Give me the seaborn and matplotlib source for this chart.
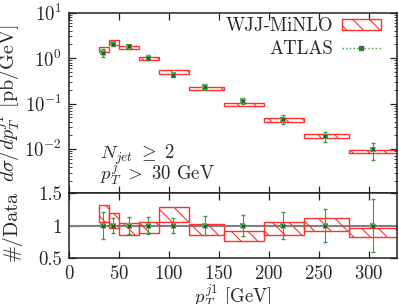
import matplotlib
matplotlib.use('Agg')
import matplotlib.pyplot as plt
import seaborn as sns
from matplotlib.lines import Line2D
from matplotlib.patches import Patch

# bins of leading-jet pT and values
edges = [30, 40, 50, 70, 90, 120, 155, 195, 235, 280, 330]
atlas_x = [34, 44, 60, 79.5, 104.5, 136, 174, 214, 256.5, 304]
atlas_y = [1.31, 2.07, 1.81, 1.02, 0.43, 0.23, 0.114, 0.045, 0.019, 0.0097]
atlas_rel = [0.21, 0.12, 0.13, 0.13, 0.11, 0.145, 0.165, 0.21, 0.25, 0.40]
minlo_lo = [1.06, 0.96, 0.86, 0.89, 1.06, 0.86, 0.76, 0.86, 0.92, 0.82]
minlo_hi = [1.31, 1.19, 1.04, 1.05, 1.28, 1.02, 0.91, 1.05, 1.11, 0.97]

sns.set_theme(style='ticks')
fs = 13.5
plt.rcParams['font.family'] = ['cmr10', 'DejaVu Serif']
plt.rcParams['mathtext.fontset'] = 'cm'
plt.rcParams['axes.formatter.use_mathtext'] = True
for k in ['font.size', 'axes.labelsize', 'xtick.labelsize', 'ytick.labelsize',
          'legend.fontsize']:
    plt.rcParams[k] = fs
plt.rcParams['hatch.linewidth'] = 0.8

red = '#ff3030'
green = '#3c9a3c'

lefts = edges[:-1]
widths = [b - a for a, b in zip(edges[:-1], edges[1:])]
up_lo = [d * r for d, r in zip(atlas_y, minlo_lo)]
up_h = [d * (h - l) for d, h, l in zip(atlas_y, minlo_hi, minlo_lo)]
err_up = [d * e for d, e in zip(atlas_y, atlas_rel)]
ones = [1.0] * len(atlas_x)
rat_h = [h - l for h, l in zip(minlo_hi, minlo_lo)]

fig = plt.figure(figsize=(3.99, 3.04), dpi=100)
ax = fig.add_axes([0.173, 0.366, 0.821, 0.592])
ax2 = fig.add_axes([0.173, 0.150, 0.821, 0.216], sharex=ax)

# --- upper panel ---
ax.bar(lefts, up_h, width=widths, bottom=up_lo, align='edge', color='none',
       edgecolor=red, linewidth=1.0, hatch='\\\\', zorder=2)
ax.errorbar(atlas_x, atlas_y, yerr=err_up, fmt='none', ecolor=green,
            elinewidth=0.8, capsize=1.5, ls='--', zorder=3)
sns.scatterplot(x=atlas_x, y=atlas_y, marker='s', color='#5fb35f', s=14,
                edgecolor='none', ax=ax, zorder=4)
sns.scatterplot(x=atlas_x, y=atlas_y, marker='x', color='#1a4d1a', s=8,
                linewidth=0.8, ax=ax, zorder=5)
ax.set_yscale('log')
ax.set_ylim(1.08e-3, 10)
ax.set_xlim(0, 328)
ax.set_ylabel(r'$d\sigma/dp_T^{j1}$ [pb/GeV]', fontsize=14.5)
ax.text(0.095, 0.19, r'$N_{jet}\ \geq\ 2$', transform=ax.transAxes, va='baseline')
ax.text(0.095, 0.068, r'$p_T^{j}\ >\ 30$ GeV', transform=ax.transAxes, va='baseline')
plt.setp(ax.get_xticklabels(), visible=False)

h1 = Patch(facecolor='none', edgecolor=red, hatch='\\\\', linewidth=1.0)
h2 = Line2D([], [], color=green, ls=':', lw=1.0, marker='s', ms=3.5,
            mfc='#2f7a2f', mec='#2f7a2f')
ax.legend([h1, h2], ['WJJ-MiNLO', 'ATLAS'], loc='upper right',
          bbox_to_anchor=(0.952, 0.975), frameon=False,
          markerfirst=False, handlelength=2.1, handleheight=0.55,
          handletextpad=0.45, labelspacing=0.28, borderaxespad=0,
          borderpad=0)

# --- ratio panel ---
ax2.axhline(1, color='#808080', lw=1.5, zorder=1)
ax2.bar(lefts, rat_h, width=widths, bottom=minlo_lo, align='edge', color='none',
        edgecolor=red, linewidth=1.0, hatch='\\\\', zorder=2)
ax2.errorbar(atlas_x, ones, yerr=atlas_rel, fmt='none', ecolor=green,
             elinewidth=0.8, capsize=1.5, ls='--', zorder=3)
sns.scatterplot(x=atlas_x, y=ones, marker='s', color='#5fb35f', s=14,
                edgecolor='none', ax=ax2, zorder=4)
sns.scatterplot(x=atlas_x, y=ones, marker='x', color='#1a4d1a', s=8,
                linewidth=0.8, ax=ax2, zorder=5)
ax2.set_ylim(0.5, 1.5)
ax2.set_yticks([0.5, 1, 1.5])
ax2.set_yticklabels(['0.5', '1', '1.5'])
ax2.set_xticks([0, 50, 100, 150, 200, 250, 300])
ax2.set_ylabel('#/Data', fontsize=14.5)
ax2.set_xlabel(r'$p_T^{j1}$ [GeV]')

for a in (ax, ax2):
    a.tick_params(which='both', direction='in', top=True, right=True, color='#222222')
    a.tick_params(which='major', length=5, width=0.9, pad=5)
    a.tick_params(which='minor', length=2.5, width=0.6)
    for s in a.spines.values():
        s.set_linewidth(1.1)
        s.set_color('#222222')
    a.yaxis.set_label_coords(-0.145, 0.5)
ax2.tick_params(axis='x', which='minor', length=0)
ax2.tick_params(axis='x', pad=5)
ax2.xaxis.set_label_coords(0.5, -0.375)

fig.savefig('out.png', dpi=100)
